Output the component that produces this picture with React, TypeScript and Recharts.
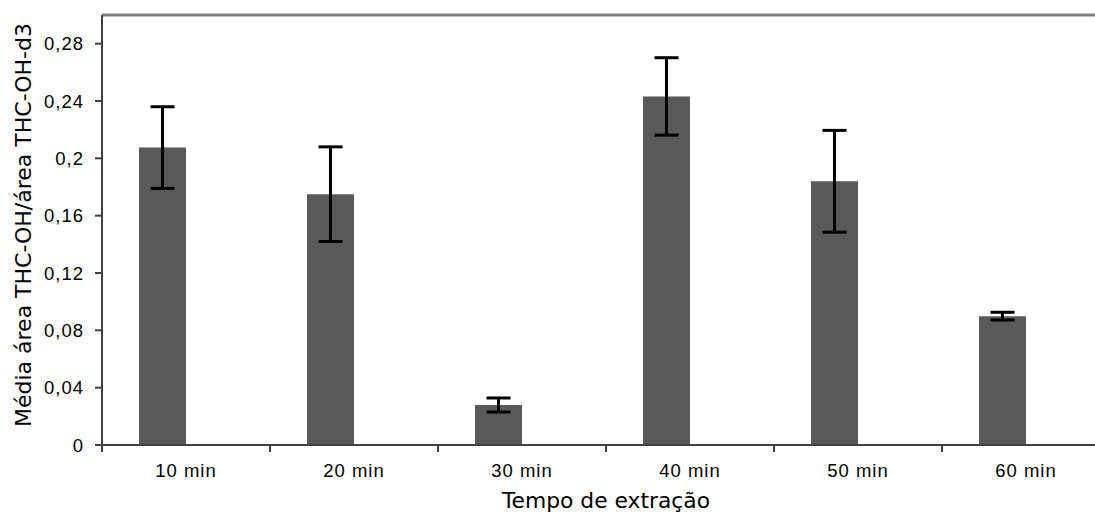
import React from 'react';
import { BarChart, Bar, XAxis, YAxis, ErrorBar, ReferenceLine, Label } from 'recharts';

const categories = ['10 min', '20 min', '30 min', '40 min', '50 min', '60 min'];
const means = [0.2075, 0.175, 0.0279, 0.2432, 0.184, 0.0899];
const errors = [0.0285, 0.033, 0.0049, 0.027, 0.0355, 0.0027];
const spacer = [null, null, null, null, null, null];
const yTicks = [0, 0.04, 0.08, 0.12, 0.16, 0.2, 0.24, 0.28];
const yTickLabels = ['0', '0,04', '0,08', '0,12', '0,16', '0,2', '0,24', '0,28'];
const xTitle = 'Tempo de extração';
const yTitle = 'Média área THC-OH/área THC-OH-d3';

const data = categories.map((c, i) => ({ cat: c, mean: means[i], err: errors[i], spacer: spacer[i] }));

const TICK_FONT = '"Liberation Sans", Arial, sans-serif';
const TITLE_FONT = '"DejaVu Sans", sans-serif';
const AXIS_COLOR = '#404040';

const XTick = (props: any) => {
  const { x, y, payload, width, visibleTicksCount, index } = props;
  const band = payload && payload.offset ? payload.offset * 2 : width / visibleTicksCount;
  const left = x - band / 2;
  const right = x + band / 2;
  return (
    <g>
      <line x1={left} x2={left} y1={y - 7} y2={y} stroke={AXIS_COLOR} strokeWidth={2} />
      {index === visibleTicksCount - 1 ? (
        <line x1={right} x2={right} y1={y - 7} y2={y} stroke={AXIS_COLOR} strokeWidth={2} />
      ) : null}
      <text x={x} y={y} dy={25} textAnchor="middle" fontFamily={TICK_FONT} fontSize={18.5} letterSpacing={1} fill="#000">
        {payload.value}
      </text>
    </g>
  );
};

const YTick = (props: any) => {
  const { x, y, payload } = props;
  const idx = yTicks.indexOf(payload.value);
  return (
    <text x={x} y={y} dy="0.36em" textAnchor="end" fontFamily={TICK_FONT} fontSize={18.5} letterSpacing={1} fill="#000">
      {idx >= 0 ? yTickLabels[idx] : ''}
    </text>
  );
};

export default function App() {
  return (
    <div style={{ position: 'absolute', left: 0, top: 0, width: 1095, height: 515, overflow: 'hidden', background: '#fff' }}>
      <BarChart
        width={1120}
        height={515}
        data={data}
        margin={{ top: 15, right: 10, bottom: 0, left: 0 }}
        barCategoryGap={37}
        barGap={0}
      >
        <XAxis
          dataKey="cat"
          height={70}
          tickLine={false}
          tickSize={7}
          tickMargin={0}
          axisLine={{ stroke: AXIS_COLOR, strokeWidth: 2 }}
          tick={<XTick />}
          interval={0}
        >
          <Label
            content={(p: any) => {
              const vb = p.viewBox;
              return (
                <text x={vb.x + vb.width / 2} y={508} textAnchor="middle" fontFamily={TITLE_FONT} fontSize={21.8} fill="#000">
                  {xTitle}
                </text>
              );
            }}
          />
        </XAxis>
        <YAxis
          width={102}
          domain={[0, 0.3]}
          ticks={yTicks}
          allowDataOverflow
          tickSize={7}
          tickMargin={11}
          tickLine={{ stroke: AXIS_COLOR, strokeWidth: 2 }}
          axisLine={{ stroke: AXIS_COLOR, strokeWidth: 2 }}
          tick={<YTick />}
          interval={0}
        >
          <Label
            content={(p: any) => {
              const vb = p.viewBox;
              const cx = 23;
              const cy = vb.y + vb.height / 2 - 5;
              return (
                <text
                  x={cx}
                  y={cy}
                  transform={`rotate(-90 ${cx} ${cy})`}
                  textAnchor="middle"
                  dominantBaseline="central"
                  fontFamily={TITLE_FONT}
                  fontSize={22}
                  fill="#000"
                >
                  {yTitle}
                </text>
              );
            }}
          />
        </YAxis>
        <ReferenceLine y={0.3} stroke="#808080" strokeWidth={3} />
        <Bar dataKey="mean" fill="#595959" isAnimationActive={false}>
          <ErrorBar dataKey="err" width={12} strokeWidth={3} stroke="#000" direction="y" />
        </Bar>
        <Bar dataKey="spacer" fill="#595959" isAnimationActive={false} />
      </BarChart>
    </div>
  );
}
